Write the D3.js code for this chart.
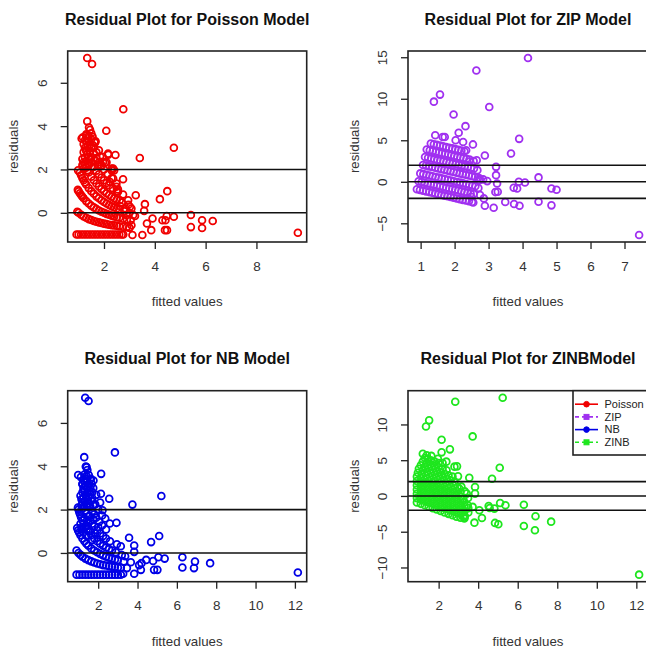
<!DOCTYPE html>
<html>
<head>
<meta charset="utf-8">
<script src="https://cdn.jsdelivr.net/npm/d3@7"></script>
<style>
  body { margin: 0; background: #fff; }
  svg { display: block; font-family: "Liberation Sans", Arial, sans-serif; }
</style>
</head>
<body>
<script>
// ---- data ----

const titles = [
  "Residual Plot for Poisson Model",
  "Residual Plot for ZIP Model",
  "Residual Plot for NB Model",
  "Residual Plot for ZINBModel"
];
const modelNames = ["Poisson", "ZIP", "NB", "ZINB"];
const modelColors = ["#f00000", "#a030f0", "#0000e6", "#1ee61e"];

const poissonPts = [
  // zero counts
  [0.92,-1],[1.0,-1],[1.1,-1],[1.2,-1],[1.3,-1],[1.4,-1],[1.5,-1],[1.6,-1],[1.7,-1],[1.8,-1],[1.9,-1],[2.0,-1],[2.1,-1],[2.2,-1],[2.3,-1],[2.4,-1],[2.5,-1],[2.6,-1],[2.7,-1],[2.76,-1],[3.12,-1.02],[3.51,-1.02],
  // ones
  [0.95,0.05],[1.0,0],[1.1,-0.09],[1.2,-0.17],[1.3,-0.23],[1.4,-0.29],[1.5,-0.33],[1.6,-0.38],[1.7,-0.41],[1.8,-0.44],[1.9,-0.47],[2.0,-0.5],[2.1,-0.52],[2.2,-0.55],[2.3,-0.57],[2.4,-0.58],[2.5,-0.6],[2.6,-0.62],[2.75,-0.64],[2.9,-0.66],[3.0,-0.69],
  // twos
  [0.97,1.06],[1.0,1.0],[1.05,0.9],[1.1,0.82],[1.15,0.74],[1.2,0.67],[1.3,0.54],[1.4,0.43],[1.5,0.33],[1.6,0.25],[1.7,0.18],[1.8,0.11],[1.9,0.05],[2.0,0],[2.1,-0.05],[2.2,-0.09],[2.3,-0.13],[2.4,-0.17],[2.5,-0.2],[2.6,-0.23],[2.75,-0.27],[2.9,-0.31],
  // threes
  [0.98,1.96],[1.05,1.86],[1.1,1.73],[1.15,1.61],[1.2,1.5],[1.25,1.4],[1.3,1.31],[1.4,1.14],[1.5,1.0],[1.6,0.88],[1.7,0.76],[1.8,0.67],[1.9,0.58],[2.0,0.5],[2.1,0.43],[2.2,0.36],[2.3,0.3],[2.4,0.25],[2.5,0.2],[2.6,0.15],[2.8,0.07],[3.0,0.0],
  // fours
  [1.15,2.48],[1.2,2.33],[1.25,2.2],[1.3,2.08],[1.35,1.96],[1.4,1.86],[1.5,1.67],[1.6,1.5],[1.7,1.35],[1.8,1.22],[1.9,1.1],[2.0,1.0],[2.1,0.9],[2.2,0.82],[2.3,0.74],[2.4,0.67],[2.5,0.6],[2.7,0.48],
  // fives
  [1.2,3.17],[1.25,3.0],[1.3,2.85],[1.35,2.7],[1.4,2.57],[1.45,2.45],[1.5,2.33],[1.6,2.13],[1.7,1.94],[1.8,1.78],[1.9,1.63],[2.0,1.5],[2.1,1.38],[2.2,1.27],[2.35,1.13],[2.5,1.0],
  // sixes, sevens
  [1.3,3.62],[1.35,3.44],[1.4,3.29],[1.45,3.14],[1.5,3.0],[1.6,2.75],[1.7,2.53],[1.8,2.33],[1.9,2.16],[2.0,2.0],[2.15,1.79],[2.3,1.61],
  [1.45,3.83],[1.5,3.67],[1.55,3.52],[1.65,3.24],[1.8,2.89],[1.95,2.59],[2.1,2.33],[2.3,2.04],
  // upper dense part
  [1.2,2.8],[1.25,2.55],[1.3,2.4],[1.35,3.1],[1.4,2.2],[1.45,2.8],[1.5,2.55],[1.55,2.1],[1.6,3.0],[1.65,2.4],[1.7,2.8],[1.75,2.2],[1.85,2.6],[1.2,2.05],[1.15,2.2],[1.3,3.3],[1.25,3.35],[1.4,3.55],[1.5,3.4],
  // scattered
  [1.34,7.14],[1.53,6.87],[2.76,4.78],[1.34,4.22],[1.41,3.94],[2.09,3.79],[4.75,3.0],[3.41,2.53],[2.45,2.67],[2.17,2.68],[1.12,3.43],[1.67,3.3],[1.3,3.57],[1.58,3.1],
  [2.75,1.55],[3.25,0.81],[3.61,0.4],[3.58,0.09],[4.2,0.63],[4.49,1.0],[3.02,0.28],[2.96,0.37],[2.55,0.97],[2.75,0.84],[2.62,0.58],[2.3,1.96],[2.4,1.96],[2.04,2.32],[1.9,2.2],[2.23,1.43],[2.49,1.2],
  [3.22,-0.15],[3.05,-0.34],[3.0,-0.69],[3.91,-0.26],[3.69,-0.49],[3.86,-0.8],[4.3,-0.34],[4.42,-0.34],[4.47,-0.15],[4.4,-0.8],[4.48,-0.8],[4.75,-0.18],[5.42,-0.1],[5.42,-0.66],[5.86,-0.34],[5.86,-0.7],[6.28,-0.38],[9.63,-0.92],
  [3.08,0.2],[3.15,-0.1],[3.08,-0.57],[2.88,-0.1],[2.65,0.3],[2.85,0.2],[2.16,2.73],[1.96,2.35],[2.36,2.04],[2.36,1.58],[2.49,1.35],[2.55,1.08],[2.95,0.58],[1.17,3.49],[1.63,3.27]
];

const zipPts = [
  // diagonal bands
  [0.89,-0.9],[0.98,-0.98],[1.07,-1.07],[1.16,-1.15],[1.25,-1.24],[1.34,-1.32],[1.43,-1.41],[1.52,-1.49],[1.61,-1.58],[1.7,-1.67],[1.79,-1.75],[1.88,-1.84],[1.97,-1.92],[2.06,-2.01],[2.15,-2.09],[2.24,-2.18],[2.33,-2.26],[2.42,-2.35],[2.51,-2.43],
  [0.94,0.06],[1.03,-0.03],[1.12,-0.11],[1.21,-0.2],[1.3,-0.29],[1.39,-0.37],[1.48,-0.46],[1.57,-0.54],[1.66,-0.63],[1.75,-0.71],[1.84,-0.8],[1.93,-0.88],[2.02,-0.97],[2.11,-1.05],[2.2,-1.14],[2.29,-1.23],[2.38,-1.31],[2.47,-1.4],[2.56,-1.48],
  [0.99,1.01],[1.08,0.92],[1.17,0.84],[1.26,0.75],[1.35,0.67],[1.44,0.58],[1.53,0.5],[1.62,0.41],[1.71,0.33],[1.8,0.24],[1.89,0.15],[1.98,0.07],[2.07,-0.02],[2.16,-0.1],[2.25,-0.19],[2.34,-0.27],[2.43,-0.36],[2.52,-0.44],[2.61,-0.53],
  [1.07,2.03],[1.16,1.95],[1.25,1.86],[1.34,1.78],[1.43,1.69],[1.52,1.61],[1.61,1.52],[1.7,1.44],[1.79,1.35],[1.88,1.26],[1.97,1.18],[2.06,1.09],[2.15,1.01],[2.24,0.92],[2.33,0.84],[2.42,0.75],[2.51,0.67],[2.6,0.58],[2.69,0.5],
  [1.13,2.98],[1.22,2.89],[1.31,2.81],[1.4,2.72],[1.49,2.63],[1.58,2.55],[1.67,2.46],[1.76,2.38],[1.85,2.29],[1.94,2.21],[2.03,2.12],[2.12,2.04],[2.21,1.95],[2.3,1.87],[2.39,1.78],[2.48,1.7],[2.57,1.61],
  [1.18,3.88],[1.27,3.79],[1.36,3.71],[1.45,3.62],[1.54,3.54],[1.63,3.45],[1.72,3.37],[1.81,3.28],[1.9,3.2],[1.99,3.11],[2.08,3.02],[2.17,2.94],[2.26,2.85],[2.35,2.77],[2.44,2.68],
  [1.3,4.62],[1.39,4.53],[1.48,4.44],[1.57,4.36],[1.66,4.27],[1.75,4.19],[1.84,4.1],[1.93,4.02],[2.02,3.93],[2.11,3.85],[2.2,3.76],[2.29,3.68],
  // scattered
  [4.16,14.9],[2.64,13.4],[1.57,10.5],[1.39,9.65],[3.02,9.0],[1.97,8.1],[2.32,6.7],[2.12,5.9],[3.9,5.17],[2.54,4.5],[3.66,3.4],[2.89,3.17],[3.22,1.8],[3.22,0.8],[3.25,-0.2],[3.27,-1.2],[3.2,-1.24],
  [2.84,0.29],[2.96,0.08],[3.89,0.0],[4.07,-0.08],[4.47,0.53],[3.74,-0.72],[3.84,-0.8],[4.85,-0.8],[5.0,-0.96],[3.49,-2.44],[3.75,-2.68],[3.91,-2.88],[4.47,-2.4],[4.85,-2.84],[2.89,-2.88],[3.15,-3.12],[7.43,-6.4],
  [2.67,1.4],[2.73,0.2],[2.56,2.5],[2.44,2.45],[2.34,3.8],[2.25,4.8],[2.03,5.0],[1.71,5.4],[1.65,5.4],[1.43,5.6],[2.49,-1.8],[2.55,-2.5],[2.75,-1.6],[2.7,-0.75],[2.86,-2.0],[2.74,0.4],[2.65,2.6]
];

const nbPts = [
  // zero counts
  [0.9,-1],[1.05,-1],[1.2,-1],[1.35,-1],[1.5,-1],[1.65,-1],[1.8,-1],[1.95,-1],[2.1,-1],[2.25,-1],[2.4,-1],[2.55,-1],[2.7,-1],[2.85,-1],[3.0,-1],[3.15,-1],[3.27,-0.96],[3.83,-0.96],
  // ones
  [0.9,0.11],[1.0,0],[1.1,-0.09],[1.2,-0.17],[1.35,-0.26],[1.5,-0.33],[1.65,-0.39],[1.8,-0.44],[1.95,-0.49],[2.1,-0.52],[2.25,-0.56],[2.4,-0.58],[2.55,-0.61],[2.7,-0.63],[2.85,-0.65],[3.0,-0.67],[3.15,-0.68],
  // twos
  [0.93,1.15],[0.98,1.04],[1.03,0.94],[1.1,0.82],[1.2,0.67],[1.3,0.54],[1.4,0.43],[1.5,0.33],[1.65,0.21],[1.8,0.11],[1.95,0.03],[2.1,-0.05],[2.25,-0.11],[2.4,-0.17],[2.55,-0.22],[2.7,-0.26],[2.85,-0.3],[3.0,-0.33],
  // threes
  [0.97,2.09],[1.0,2.0],[1.04,1.88],[1.08,1.78],[1.13,1.65],[1.2,1.5],[1.27,1.36],[1.35,1.22],[1.42,1.11],[1.5,1.0],[1.65,0.82],[1.8,0.67],[1.95,0.54],[2.1,0.43],[2.25,0.33],[2.4,0.25],[2.55,0.18],[2.7,0.11],[2.9,0.03],
  // fours
  [1.1,2.64],[1.15,2.48],[1.2,2.33],[1.27,2.15],[1.35,1.96],[1.42,1.82],[1.5,1.67],[1.6,1.5],[1.7,1.35],[1.8,1.22],[1.95,1.05],[2.1,0.9],[2.25,0.78],[2.4,0.67],[2.6,0.54],
  // fives .. sevens
  [1.2,3.17],[1.25,3.0],[1.3,2.85],[1.37,2.65],[1.45,2.45],[1.52,2.29],[1.6,2.13],[1.7,1.94],[1.8,1.78],[1.9,1.63],[2.05,1.44],[2.2,1.27],[2.4,1.08],
  [1.3,3.62],[1.35,3.44],[1.4,3.29],[1.47,3.08],[1.55,2.87],[1.62,2.7],[1.7,2.53],[1.85,2.24],[2.0,2.0],[2.2,1.73],
  [1.45,3.83],[1.52,3.6],[1.6,3.38],[1.67,3.19],[1.75,3.0],[1.9,2.68],[2.1,2.33],
  // dense part between bands
  [1.2,2.8],[1.25,2.55],[1.3,2.4],[1.35,3.1],[1.4,2.2],[1.45,2.8],[1.5,2.55],[1.55,2.1],[1.6,3.0],[1.65,2.4],[1.7,2.8],[1.75,2.2],[1.2,2.05],[1.15,2.2],[1.3,3.3],[1.25,3.35],[1.4,3.55],
  [1.5,1.4],[1.3,1.6],[1.15,1.1],[1.6,1.0],[1.45,1.25],[1.25,0.95],[1.4,0.8],[1.7,0.6],[1.1,1.35],[1.2,1.2],[1.55,1.7],[1.75,1.55],[1.85,0.9],[2.0,1.2],
  // scattered
  [1.34,7.16],[1.51,7.01],[2.85,4.64],[1.29,4.42],[1.41,3.96],[2.15,3.65],[5.21,2.63],[3.74,2.23],[2.56,2.5],[2.14,2.73],[2.93,1.39],[3.57,0.7],[3.83,0.34],[3.83,0.05],[4.69,0.5],[5.1,0.78],
  [5.06,-0.2],[5.38,-0.26],[4.44,-0.32],[4.79,-0.37],[4.2,-0.47],[4.08,-0.56],[4.17,-0.78],[4.84,-0.78],[5.01,-0.78],[6.28,-0.2],[6.28,-0.67],[6.92,-0.4],[6.87,-0.7],[7.69,-0.47],[12.15,-0.9],
  [3.46,-0.7],[3.66,-0.43],[3.37,-0.15],[3.15,0.31],[2.95,0.4],[2.59,1.36],[2.36,1.59],[2.22,1.97],[1.76,3.34],[1.63,3.42],[1.12,3.5],[1.2,3.19],[0.98,3.6],[1.37,3.99],[3.3,-0.4],[3.2,-0.1]
];

const zinbPts = [
  // dense mass, diagonal bands
  [0.9,-0.9],[1.1,-1.1],[1.3,-1.3],[1.5,-1.5],[1.7,-1.7],[1.9,-1.9],[2.1,-2.1],[2.3,-2.3],[2.5,-2.5],[2.7,-2.7],[2.9,-2.9],[3.1,-3.05],[3.3,-3.15],
  [0.9,-0.3],[1.1,-0.5],[1.3,-0.7],[1.5,-0.9],[1.7,-1.1],[1.9,-1.3],[2.1,-1.5],[2.3,-1.7],[2.5,-1.9],[2.7,-2.1],[2.9,-2.3],[3.1,-2.5],[3.3,-2.7],
  [0.9,0.3],[1.1,0.1],[1.3,-0.1],[1.5,-0.3],[1.7,-0.5],[1.9,-0.7],[2.1,-0.9],[2.3,-1.1],[2.5,-1.3],[2.7,-1.5],[2.9,-1.7],[3.1,-1.9],[3.3,-2.1],[3.5,-2.3],
  [0.9,0.9],[1.1,0.7],[1.3,0.5],[1.5,0.3],[1.7,0.1],[1.9,-0.1],[2.1,-0.3],[2.3,-0.5],[2.5,-0.7],[2.7,-0.9],[2.9,-1.1],[3.1,-1.3],[3.3,-1.5],[3.5,-1.7],
  [0.9,1.5],[1.1,1.3],[1.3,1.1],[1.5,0.9],[1.7,0.7],[1.9,0.5],[2.1,0.3],[2.3,0.1],[2.5,-0.1],[2.7,-0.3],[2.9,-0.5],[3.1,-0.7],[3.3,-0.9],
  [0.9,2.1],[1.1,1.9],[1.3,1.7],[1.5,1.5],[1.7,1.3],[1.9,1.1],[2.1,0.9],[2.3,0.7],[2.5,0.5],[2.7,0.3],[2.9,0.1],[3.1,-0.1],
  [0.9,2.7],[1.1,2.5],[1.3,2.3],[1.5,2.1],[1.7,1.9],[1.9,1.7],[2.1,1.5],[2.3,1.3],[2.5,1.1],[2.7,0.9],[2.9,0.7],[3.1,0.5],
  [0.95,3.25],[1.15,3.05],[1.35,2.85],[1.55,2.65],[1.75,2.45],[1.95,2.25],[2.15,2.05],[2.35,1.85],[2.55,1.65],[2.75,1.45],[2.95,1.25],
  [1.0,3.8],[1.2,3.6],[1.4,3.4],[1.6,3.2],[1.8,3.0],[2.0,2.8],[2.2,2.6],[2.4,2.4],[2.6,2.2],[2.8,2.0],
  [1.1,4.3],[1.3,4.1],[1.5,3.9],[1.7,3.7],[1.9,3.5],[2.1,3.3],[2.3,3.1],[2.5,2.9],[2.7,2.7],
  [1.2,4.8],[1.4,4.6],[1.6,4.4],[1.8,4.2],[2.0,4.0],[2.2,3.8],[2.4,3.6],
  [1.3,5.3],[1.45,5.15],[1.6,5.0],[1.8,4.8],[2.0,4.6],
  [1.2,5.9],[1.4,5.7],[1.63,5.6],[1.96,5.2],[2.39,4.8],[2.2,4.6],
  // scattered
  [5.24,13.73],[2.84,13.17],[1.52,10.57],[1.36,9.72],[3.72,8.33],[2.15,7.86],[2.57,6.52],[2.15,6.1],[5.09,3.95],[2.93,4.14],[3.55,2.55],[4.7,2.41],[3.84,1.26],[3.84,0.33],
  [3.47,-1.31],[3.72,-1.53],[4.06,-2.0],[4.19,-3.08],[3.81,-3.73],[4.53,-1.4],[4.82,-1.77],[5.11,-0.98],[5.38,-1.31],[4.85,-3.77],[5.02,-3.96],[6.31,-1.22],[6.31,-4.19],[6.9,-2.84],[6.87,-4.8],[7.69,-3.59],[12.14,-11.0],
  [3.3,-3.03],[3.42,0.33],[3.05,1.02],[3.25,-0.38],[2.8,4.1],[3.15,1.3],[2.98,2.74],[3.32,0.64],[3.49,-0.28],[4.58,-1.68],[3.32,-2.85]
];

const refLines = [[0, 2], [-2, 0, 2], [0, 2], [-2, 0, 2]];
const xTickVals = [[2, 4, 6, 8], [1, 2, 3, 4, 5, 6, 7], [2, 4, 6, 8, 10, 12], [2, 4, 6, 8, 10, 12]];
const yTickVals = [[0, 2, 4, 6], [-5, 0, 5, 10, 15], [0, 2, 4, 6], [-10, -5, 0, 5, 10]];

// ---- layout ----
const width = 646, height = 648;
const boxes = [
  { l: 67.7, r: 306.7, t: 51, b: 242 },
  { l: 408, r: 648, t: 51, b: 242 },
  { l: 67.7, r: 306.7, t: 390.7, b: 581.7 },
  { l: 408, r: 648, t: 390.7, b: 581.7 }
];
const allPts = [poissonPts, zipPts, nbPts, zinbPts];

const svg = d3.select("body").append("svg")
  .attr("width", width)
  .attr("height", height);

// R style range: data extent padded by 4%
const padded = (ext) => {
  const d = (ext[1] - ext[0]) * 0.04;
  return [ext[0] - d, ext[1] + d];
};

allPts.forEach((pts, i) => {
  const bx = boxes[i];
  const x = d3.scaleLinear().domain(padded(d3.extent(pts, d => d[0]))).range([bx.l, bx.r]);
  const y = d3.scaleLinear().domain(padded(d3.extent(pts, d => d[1]))).range([bx.b, bx.t]);
  const g = svg.append("g");

  g.append("clipPath").attr("id", "clip" + i)
    .append("rect")
    .attr("x", bx.l).attr("y", bx.t)
    .attr("width", bx.r - bx.l).attr("height", bx.b - bx.t);

  const plot = g.append("g").attr("clip-path", `url(#clip${i})`);

  // points
  plot.selectAll("circle")
    .data(pts)
    .join("circle")
    .attr("cx", d => x(d[0]))
    .attr("cy", d => y(d[1]))
    .attr("r", 3.4)
    .attr("fill", "none")
    .attr("stroke", modelColors[i])
    .attr("stroke-width", 1.8);

  // reference lines
  plot.selectAll("line.ref")
    .data(refLines[i])
    .join("line")
    .attr("class", "ref")
    .attr("x1", bx.l).attr("x2", bx.r)
    .attr("y1", d => y(d)).attr("y2", d => y(d))
    .attr("stroke", "#111")
    .attr("stroke-width", 1.6);

  // box
  g.append("rect")
    .attr("x", bx.l).attr("y", bx.t)
    .attr("width", bx.r - bx.l).attr("height", bx.b - bx.t)
    .attr("fill", "none")
    .attr("stroke", "#222")
    .attr("stroke-width", 1.6);

  // x axis
  const xa = g.append("g").attr("transform", `translate(0,${bx.b})`)
    .call(d3.axisBottom(x).tickValues(xTickVals[i]).tickSize(7).tickPadding(12).tickFormat(d3.format("d")));
  xa.select(".domain").remove();
  xa.selectAll("line").attr("stroke", "#222").attr("stroke-width", 1.3);
  xa.selectAll("text")
    .attr("font-size", 13.5)
    .attr("font-family", "Liberation Sans, Arial, sans-serif")
    .attr("fill", "#333");

  // y axis (labels parallel to the axis)
  const ya = g.append("g").attr("transform", `translate(${bx.l},0)`)
    .call(d3.axisLeft(y).tickValues(yTickVals[i]).tickSize(7).tickFormat(d3.format("d")));
  ya.select(".domain").remove();
  ya.selectAll("line").attr("stroke", "#222").attr("stroke-width", 1.3);
  ya.selectAll("text")
    .attr("x", null).attr("dy", null)
    .attr("text-anchor", "middle")
    .attr("transform", "translate(-21,0) rotate(-90)")
    .attr("font-size", 13.5)
    .attr("font-family", "Liberation Sans, Arial, sans-serif")
    .attr("fill", "#333");

  // title and axis labels
  const cx = (bx.l + Math.min(bx.r, 648)) / 2;
  g.append("text")
    .attr("x", cx).attr("y", bx.t - 26.5)
    .attr("text-anchor", "middle")
    .attr("font-size", 16).attr("font-weight", "bold")
    .attr("fill", "#111")
    .text(titles[i]);

  g.append("text")
    .attr("x", cx).attr("y", bx.b + 64)
    .attr("text-anchor", "middle")
    .attr("font-size", 13.3).attr("fill", "#333")
    .text("fitted values");

  g.append("text")
    .attr("transform", `translate(${bx.l - 49.5},${(bx.t + bx.b) / 2}) rotate(-90)`)
    .attr("text-anchor", "middle")
    .attr("font-size", 13.3).attr("fill", "#333")
    .text("residuals");
});

// ---- legend (in the ZINB panel) ----
const lg = svg.append("g").attr("transform", "translate(573,390.7)");
lg.append("rect")
  .attr("width", 100).attr("height", 64.3)
  .attr("fill", "#fff").attr("stroke", "#222").attr("stroke-width", 1.6);

const rows = lg.selectAll("g.row")
  .data(modelNames)
  .join("g")
  .attr("class", "row")
  .attr("transform", (d, i) => `translate(0,${13.5 + i * 12.7})`);

rows.append("line")
  .attr("x1", 2).attr("x2", 25)
  .attr("stroke", (d, i) => modelColors[i])
  .attr("stroke-width", 1.6)
  .attr("stroke-dasharray", (d, i) => (i % 2 ? "4,3" : null));

rows.each(function (d, i) {
  const r = d3.select(this);
  if (i % 2) {
    r.append("rect").attr("x", 11).attr("y", -2.5).attr("width", 5).attr("height", 5)
      .attr("fill", modelColors[i]).attr("stroke", modelColors[i]);
  } else {
    r.append("circle").attr("cx", 13.5).attr("r", 2.8)
      .attr("fill", modelColors[i]).attr("stroke", modelColors[i]);
  }
});

rows.append("text")
  .attr("x", 31.5).attr("dy", "0.35em")
  .attr("font-size", 11).attr("fill", "#222")
  .text(d => d);
</script>
</body>
</html>
